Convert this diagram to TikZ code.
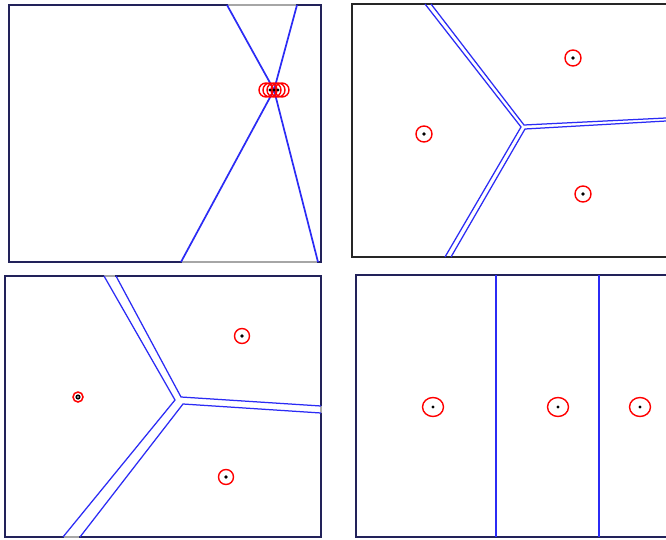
\documentclass[tikz,border=0pt]{standalone}
\begin{document}
\begin{tikzpicture}[x=1pt,y=-1pt,
  frame/.style={draw=navy,line width=2.3pt},
  gapseg/.style={draw=gray!70,line width=2.3pt},
  edge/.style={draw=vblue,line width=1.7pt,line join=miter},
  thinedge/.style={draw=vblue,line width=1.25pt},
  site/.style={draw=red,line width=1.4pt},
  dot/.style={fill=black}]
\definecolor{navy}{HTML}{22225A}
\definecolor{vblue}{HTML}{2B2BF5}
\useasboundingbox (0,0) rectangle (666,540);
\fill[white] (0,0) rectangle (666,540);
% ---------- Panel 1 ----------
\coordinate (c1) at (274,90);
\draw[frame] (9,5) rectangle (321,262);
\draw[gapseg] (228,5) -- (296,5);
\draw[gapseg] (182,262) -- (317,262);
\draw[edge] (227,5) -- (c1) -- (318,262);
\draw[edge] (297,5) -- (c1) -- (181,262);
\foreach \x in {266,270,274,278,282}{\draw[site] (\x,90) circle (7);}
\foreach \x in {270,274,278}{\fill[dot] (\x,90) circle (1.6);}
% ---------- Panel 2 ----------
\draw[draw=black!85,line width=2.2pt] (666,4) -- (352,4) -- (352,257) -- (666,257);
\draw[thinedge] (425,4) -- (521,127) -- (445,257);
\draw[thinedge] (431,4) -- (524,125) -- (666,118);
\draw[thinedge] (451,257) -- (525,129) -- (666,121);
\foreach \p in {(573,58),(424,134),(583,194)}{
  \draw[site] \p circle (8);
  \fill[dot] \p circle (1.8);}
% ---------- Panel 3 ----------
\draw[frame] (5,276) rectangle (321,537);
\draw[gapseg] (104,276) -- (115,276);
\draw[gapseg] (64,537) -- (79,537);
\draw[gapseg] (321,406) -- (321,413);
\draw[thinedge] (104,276) -- (175,400) -- (63,537);
\draw[thinedge] (116,276) -- (181,397) -- (321,406);
\draw[thinedge] (80,537) -- (183,404) -- (321,413);
\draw[red,line width=1.5pt] (78,397) circle (5);
\fill[dot] (78,397) circle (2.6);
\fill[white] (78,397) circle (0.9);
\foreach \p in {(242,336),(226,477)}{
  \draw[site] \p circle (7.5);
  \fill[dot] \p circle (1.9);}
% ---------- Panel 4 ----------
\draw[frame] (666,275) -- (356,275) -- (356,537) -- (666,537);
\draw[vblue,line width=2.2pt] (496,275) -- (496,537);
\draw[vblue,line width=2.2pt] (599,275) -- (599,537);
\foreach \p in {(433,407),(558,407),(640,407)}{
  \draw[site] \p ellipse (10.5 and 9.5);
  \fill[dot] \p circle (1.7);}
\end{tikzpicture}
\end{document}
